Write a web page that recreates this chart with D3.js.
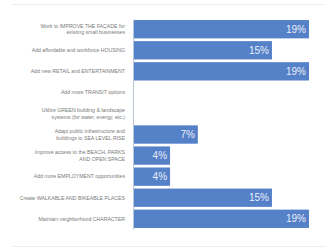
<!DOCTYPE html>
<html>
<head>
<meta charset="utf-8">
<script src="https://cdn.jsdelivr.net/npm/d3@7"></script>
<style>
  body { margin: 0; background: #fff; }
  #chart { width: 325px; height: 251px; }
</style>
</head>
<body>
<div id="chart"></div>
<script>
// categories (top to bottom), split into label lines
const categories = [
    ["Work to IMPROVE THE FAÇADE for", "existing small businesses"],
    ["Add affordable and workforce HOUSING"],
    ["Add new RETAIL and ENTERTAINMENT"],
    ["Add more TRANSIT options"],
    ["Utilize GREEN building & landscape", "systems (for water, energy, etc.)"],
    ["Adapt public infrastructure and", "buildings to SEA LEVEL RISE"],
    ["Improve access to the BEACH, PARKS", "AND OPEN SPACE"],
    ["Add more EMPLOYMENT opportunities"],
    ["Create WALKABLE AND BIKEABLE PLACES"],
    ["Maintain neighborhood CHARACTER"]
];
const values = [19, 15, 19, 0, 0, 7, 4, 4, 15, 19];

const width = 325, height = 251;
const margin = {top: 19, left: 133, right: 16, bottom: 22};

const svg = d3.select("#chart").append("svg")
    .attr("width", width)
    .attr("height", height);

// light frame lines top and bottom
svg.append("line")
    .attr("x1", 12).attr("x2", width).attr("y1", 4.5).attr("y2", 4.5)
    .attr("stroke", "#ececec");
svg.append("line")
    .attr("x1", 12).attr("x2", width).attr("y1", 246.5).attr("y2", 246.5)
    .attr("stroke", "#ececec");

const idx = d3.range(categories.length);

const xScale = d3.scaleLinear()
    .domain([0, 19])
    .range([margin.left, width - margin.right]);

const yScale = d3.scaleBand()
    .domain(idx)
    .range([margin.top, height - margin.bottom])
    .paddingInner(0.13)
    .paddingOuter(0.05);

// bars
svg.selectAll("rect.bar")
    .data(idx)
    .enter()
    .append("rect")
        .attr("class", "bar")
        .attr("x", xScale(0))
        .attr("y", i => yScale(i))
        .attr("width", i => xScale(values[i]) - xScale(0))
        .attr("height", yScale.bandwidth())
        .attr("fill", "#5581c9");

// axis line
const yAxis = svg.append("g")
    .attr("transform", `translate(${margin.left},0)`)
    .call(d3.axisLeft(yScale).tickSize(0).tickFormat(""));
yAxis.select(".domain").attr("stroke", "#b8c4d8");

// category labels
const labels = svg.selectAll("text.cat")
    .data(idx)
    .enter()
    .append("text")
        .attr("class", "cat")
        .attr("text-anchor", "end")
        .attr("font-family", "Liberation Sans, Arial, sans-serif")
        .attr("font-size", 5.2)
        .attr("fill", "#7a7a7a");

labels.each(function(i) {
    const lines = categories[i];
    const cy = yScale(i) + yScale.bandwidth() / 2;
    const lh = 6.5;
    d3.select(this).selectAll("tspan")
        .data(lines)
        .enter()
        .append("tspan")
            .attr("x", 125)
            .attr("y", (d, k) => cy + (k - (lines.length - 1) / 2) * lh + 1.8)
            .text(d => d);
});

// value labels
svg.selectAll("text.val")
    .data(idx.filter(i => values[i] > 0))
    .enter()
    .append("text")
        .attr("class", "val")
        .attr("x", i => xScale(values[i]) - 3)
        .attr("y", i => yScale(i) + yScale.bandwidth() / 2 + 3.5)
        .attr("text-anchor", "end")
        .attr("font-family", "Liberation Sans, Arial, sans-serif")
        .attr("font-size", 10)
        .attr("fill", "#e9eef8")
        .text(i => values[i] + "%");
</script>
</body>
</html>
